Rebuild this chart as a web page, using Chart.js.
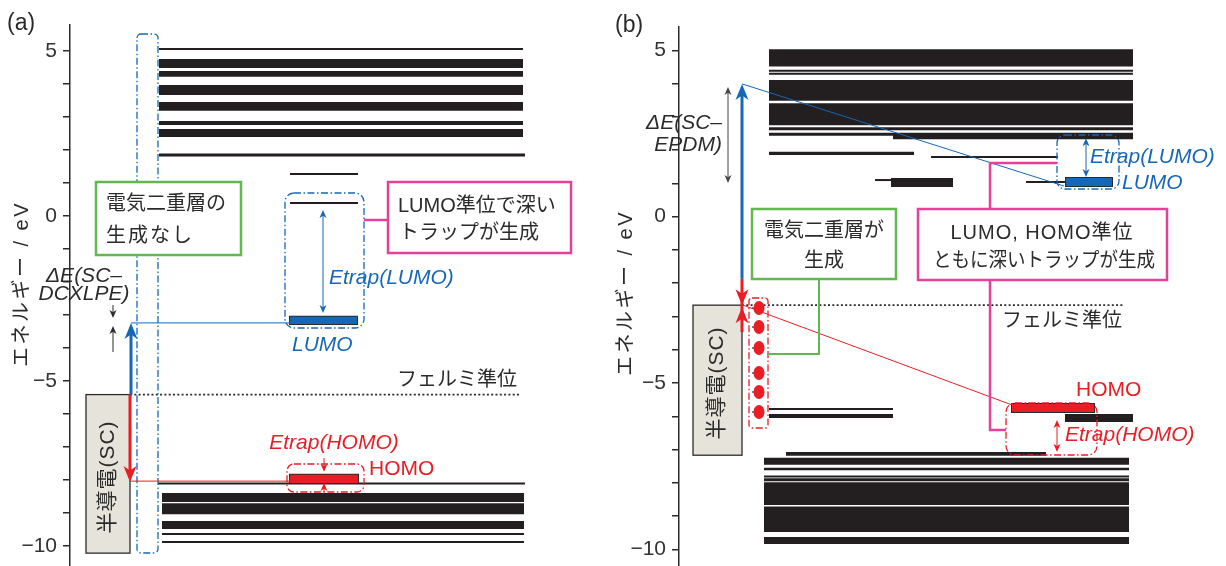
<!DOCTYPE html>
<html><head><meta charset="utf-8"><title>エネルギー準位図</title>
<script src="https://cdn.jsdelivr.net/npm/chart.js"></script>
<style>
    body { margin: 0; background: #fff; width: 1226px; height: 566px; overflow: hidden; position: relative; }
    canvas { position: absolute; top: 0; }
    #chartA { left: 0; }
    #chartB { left: 610px; }
</style>
</head>
<body>
<canvas id="chartA" width="610" height="566"></canvas>
<canvas id="chartB" width="616" height="566"></canvas>
<script>
// ---- data: energies in eV, horizontal extents in x-axis units ----
// panel (a) DCXLPE
const bandLoA   = [5.05, 4.48, 4.21, 3.66, 3.18, 2.75, 2.39, 1.80, 1.27, 0.39, -8.10, -8.66, -9.03, -9.48, -9.63, -9.87];
const bandHiA   = [5.05, 4.75, 4.39, 3.96, 3.45, 2.87, 2.63, 1.89, 1.27, 0.39, -8.10, -8.39, -8.70, -9.24, -9.63, -9.87];
const bandFromA = [159, 159, 159, 159, 159, 159, 159, 159, 290, 290, 158, 162, 162, 162, 162, 162];
const bandToA   = [523, 523, 523, 523, 523, 523, 523, 525, 358, 358, 525, 524, 524, 524, 524, 524];
const lumoA = [-3.27, -3.05], lumoSpanA = [290, 357];
const homoA = [-8.09, -7.84], homoSpanA = [290, 358];
const fermiA = -5.41, fermiSpanA = [130, 519];
const scBottomA = -10.21, lumoLinkA = -3.24, homoLinkA = -8.03;

// panel (b) EPDM
const bandLoB   = [4.51, 4.36, 4.27, 3.48, 2.75, 2.60, 2.43, 2.33, 1.85, 1.76, 1.10, 0.89, 1.04, -5.78, -6.05, -6.17, -7.19, -7.46, -7.62, -7.81, -7.95, -8.67, -9.48, -9.84];
const bandHiB   = [5.03, 4.41, 4.32, 4.11, 3.41, 2.69, 2.52, 2.46, 1.95, 1.82, 1.10, 1.16, 1.04, -5.78, -5.93, -5.93, -7.07, -7.25, -7.55, -7.81, -7.86, -7.98, -8.71, -9.63];
const bandFromB = [769, 769, 769, 769, 769, 769, 769, 893, 769, 931, 875, 891, 1026, 769, 769, 1065, 786, 764, 764, 764, 764, 764, 764, 764];
const bandToB   = [1133, 1133, 1133, 1133, 1133, 1133, 1133, 1133, 914, 1058, 892, 953, 1066, 893, 893, 1133, 1046, 1129, 1129, 1129, 1129, 1129, 1129, 1129];
const lumoB = [0.92, 1.16], lumoSpanB = [1066, 1112];
const homoB = [-5.87, -5.63], homoSpanB = [1012, 1094];
const fermiB = -2.66, fermiSpanB = [742, 1123];
const scBottomB = -7.17, arrowTopB = 3.99, arrowMidB = -1.87, arrowLowB = -3.47, homoLinkB = -5.66;

const INK = '#2b2b2b', BAND = '#231f20', BLUE = '#1667b7', RED = '#ea1d25';
const PINK = '#e6419a', GREEN = '#62b84f', SCFILL = '#e6e4da';
const FONT = '"Liberation Sans", "Noto Sans CJK JP", sans-serif';

Chart.defaults.font.family = FONT;

function thick(chart, lo, hi, extra) {
    const y = chart.scales && chart.scales.y;
    if (!y) return 2 + extra;
    const d = Math.abs(y.getPixelForValue(lo) - y.getPixelForValue(hi));
    return (isFinite(d) ? Math.max(2, d) : 2) + extra;
}

function levelSet(lo, hi, from, to, color, order, extra) {
    return lo.map((l, i) => ({
        data: [{x: from[i], y: (l + hi[i]) / 2}, {x: to[i], y: (l + hi[i]) / 2}],
        borderColor: color,
        borderWidth: ctx => thick(ctx.chart, l, hi[i], extra),
        borderCapStyle: 'butt',
        pointRadius: 0,
        order: order
    }));
}

function trap(range, span, color) {
    return [
        ...levelSet([range[0]], [range[1]], [span[0] - 1], [span[1] + 1], INK, 2, 2),
        ...levelSet([range[0]], [range[1]], [span[0]], [span[1]], color, 1, 0)
    ];
}

function fermi(e, span) {
    return {
        data: [{x: span[0], y: e}, {x: span[1], y: e}],
        borderColor: INK, borderWidth: 1.6, borderDash: [2, 2.3],
        pointRadius: 0, order: 2
    };
}

// ---- drawing helpers for the annotations ----
function dashRect(ctx, x, y, w, h, r, color) {
    ctx.save();
    ctx.strokeStyle = color; ctx.lineWidth = 1.3; ctx.setLineDash([7, 2.5, 1.5, 2.5]);
    ctx.beginPath(); ctx.roundRect(x, y, w, h, r); ctx.stroke();
    ctx.restore();
}
function textBox(ctx, x, y, w, h, color) {
    ctx.save();
    ctx.fillStyle = '#fff'; ctx.strokeStyle = color; ctx.lineWidth = 2.5;
    ctx.fillRect(x, y, w, h); ctx.strokeRect(x, y, w, h);
    ctx.restore();
}
function poly(ctx, pts, color, width) {
    ctx.save();
    ctx.strokeStyle = color; ctx.lineWidth = width;
    ctx.beginPath(); ctx.moveTo(pts[0][0], pts[0][1]);
    pts.slice(1).forEach(p => ctx.lineTo(p[0], p[1]));
    ctx.stroke(); ctx.restore();
}
function head(ctx, x, y, dir, hw, len, color) {
    ctx.save(); ctx.fillStyle = color;
    ctx.beginPath(); ctx.moveTo(x, y);
    ctx.lineTo(x - hw, y - dir * len); ctx.lineTo(x, y - dir * len * 0.72); ctx.lineTo(x + hw, y - dir * len);
    ctx.closePath(); ctx.fill(); ctx.restore();
}
function arrow(ctx, x, y0, y1, color, big) {
    const dir = y1 > y0 ? 1 : -1;
    poly(ctx, [[x, y0], [x, y1 - dir * (big ? 9 : 4)]], color, big ? 3 : 1);
    if (big) head(ctx, x, y1, dir, 6.5, 16, color); else head(ctx, x, y1, dir, 3.5, 8, color);
}
function dblArrow(ctx, x, y0, y1, color) {
    poly(ctx, [[x, y0 + 4], [x, y1 - 4]], color, 1);
    head(ctx, x, y0, -1, 3.5, 8, color);
    head(ctx, x, y1, 1, 3.5, 8, color);
}
function label(ctx, s, x, y, font, color, align, maxW, spacing) {
    ctx.save();
    ctx.font = font; ctx.fillStyle = color || INK;
    ctx.textAlign = align || 'left'; ctx.textBaseline = 'middle';
    if (spacing) ctx.letterSpacing = spacing;
    if (maxW) ctx.fillText(s, x, y, maxW); else ctx.fillText(s, x, y);
    ctx.restore();
}
function vlabel(ctx, s, x, y, font, color, spacing) {
    ctx.save();
    ctx.translate(x, y); ctx.rotate(-Math.PI / 2);
    label(ctx, s, 0, 0, font, color, 'center', 0, spacing);
    ctx.restore();
}
function scBox(ctx, x, y0, w, y1, cy) {
    ctx.save();
    ctx.fillStyle = SCFILL; ctx.strokeStyle = INK; ctx.lineWidth = 1.3;
    ctx.fillRect(x, y0, w, y1 - y0); ctx.strokeRect(x, y0, w, y1 - y0);
    ctx.restore();
    vlabel(ctx, '半導電(SC)', x + w / 2, cy, '21px ' + FONT, INK, '1px');
}

const F20 = '20px ' + FONT, F21 = '21px ' + FONT, I21 = 'italic 21px ' + FONT;

function drawA(chart) {
    const ctx = chart.ctx, Y = e => chart.scales.y.getPixelForValue(e);
    ctx.save();
    label(ctx, '(a)', 7, 24, '23px ' + FONT, INK);
    vlabel(ctx, 'エネルギー / eV', 22, 284, F20, INK, '2.5px');

    dashRect(ctx, 137, 34, 21, 519, 4, BLUE);
    scBox(ctx, 86, Y(fermiA), 44, Y(scBottomA), 477);
    arrow(ctx, 131, Y(fermiA), Y(lumoLinkA), BLUE, true);
    arrow(ctx, 130, Y(fermiA), Y(homoLinkA) + 1, RED, true);
    poly(ctx, [[131, Y(lumoLinkA)], [290, Y(lumoLinkA)]], BLUE, 1);
    poly(ctx, [[131, Y(homoLinkA)], [290, Y(homoLinkA)]], RED, 1);

    // ΔE(SC-DCXLPE)
    label(ctx, 'ΔE(SC–', 84, 276, I21, INK, 'center');
    label(ctx, 'DCXLPE)', 84, 294, I21, INK, 'center');
    arrow(ctx, 113, Y(-2.70), Y(-3.09), INK, false);
    arrow(ctx, 113, Y(-4.12), Y(-3.33), INK, false);

    // double layer: none
    textBox(ctx, 96, 182, 145, 73, GREEN);
    label(ctx, '電気二重層の', 106, 204, F20, INK);
    label(ctx, '生成なし', 106, 236, F20, INK, 'left', 0, '2px');

    // LUMO trap
    dashRect(ctx, 285, 193, 79, 135, 9, BLUE);
    dblArrow(ctx, 323, Y(0.18), Y(-2.94), BLUE);
    label(ctx, 'Etrap(LUMO)', 329, 278, I21, BLUE);
    label(ctx, 'LUMO', 292, 345, I21, BLUE);
    poly(ctx, [[364, 220], [388, 220]], PINK, 2.5);
    textBox(ctx, 388, 182, 183, 71, PINK);
    label(ctx, 'LUMO準位で深い', 398, 206, F20, INK);
    label(ctx, 'トラップが生成', 399, 233, F20, INK);

    // HOMO trap
    dashRect(ctx, 287, 464, 77, 28, 7, RED);
    label(ctx, 'Etrap(HOMO)', 334, 443, I21, RED, 'center');
    arrow(ctx, 324, Y(-7.33), Y(-7.75), RED, false);
    arrow(ctx, 324, Y(-8.36), Y(-8.09), RED, false);
    label(ctx, 'HOMO', 369, 469, F21, RED);

    label(ctx, 'フェルミ準位', 397, 380, F20, INK);
    ctx.restore();
}

function drawB(chart) {
    const ctx = chart.ctx, Y = e => chart.scales.y.getPixelForValue(e);
    ctx.save();
    ctx.translate(-610, 0);   // draw in page coordinates
    label(ctx, '(b)', 615, 26, '23px ' + FONT, INK);
    vlabel(ctx, 'エネルギー / eV', 626, 293, F20, INK, '2.5px');

    // ΔE(SC-EPDM)
    label(ctx, 'ΔE(SC–', 722, 123, I21, INK, 'right');
    label(ctx, 'EPDM)', 722, 145, I21, INK, 'right');
    dblArrow(ctx, 728, Y(3.90), Y(1.01), '#444');

    scBox(ctx, 693, Y(fermiB), 49, Y(scBottomB), 383);

    // charges in the double layer
    dashRect(ctx, 749, 298, 19, 130, 3, RED);
    [308, 327, 348, 373, 392, 412].forEach(cy => {
        poly(ctx, [[752, cy], [756, cy]], INK, 1.2);
        ctx.save(); ctx.fillStyle = RED;
        ctx.beginPath(); ctx.ellipse(759, cy, 5.5, 7, 0, 0, Math.PI * 2); ctx.fill();
        ctx.restore();
    });

    // main arrows
    arrow(ctx, 742, Y(arrowMidB), Y(arrowTopB), BLUE, true);
    poly(ctx, [[742, Y(arrowMidB)], [742, Y(arrowLowB)]], RED, 3);
    head(ctx, 742, Y(fermiB), 1, 6.5, 16, RED);
    head(ctx, 742, Y(fermiB) + 2, -1, 6.5, 16, RED);
    poly(ctx, [[742, Y(arrowTopB)], [1064, Y(lumoB[0])]], BLUE, 1);
    poly(ctx, [[743, Y(fermiB)], [1012, Y(homoLinkB)]], RED, 1);

    // double layer formed
    poly(ctx, [[819, 279], [819, 354], [768, 354]], GREEN, 2);
    textBox(ctx, 752, 209, 144, 70, GREEN);
    label(ctx, '電気二重層が', 824, 231, F20, INK, 'center');
    label(ctx, '生成', 824, 261, F20, INK, 'center');

    // LUMO trap
    dashRect(ctx, 1057, 135, 62, 54, 8, BLUE);
    dblArrow(ctx, 1086, Y(2.36), Y(1.19), BLUE);
    label(ctx, 'Etrap(LUMO)', 1090, 157, I21, BLUE);
    label(ctx, 'LUMO', 1122, 183, I21, BLUE);

    // HOMO trap
    dashRect(ctx, 1006, 403, 91, 52, 9, RED);
    dblArrow(ctx, 1057, Y(-6.11), Y(-7.07), RED);
    label(ctx, 'Etrap(HOMO)', 1065, 435, I21, RED);
    label(ctx, 'HOMO', 1076, 390, F21, RED);

    // deep traps note
    poly(ctx, [[1057, 163], [990, 163], [990, 209]], PINK, 2.5);
    poly(ctx, [[990, 280], [990, 430], [1006, 430]], PINK, 2.5);
    textBox(ctx, 918, 209, 249, 71, PINK);
    label(ctx, 'LUMO, HOMO準位', 1042, 233, F20, INK, 'center', 0, '1px');
    label(ctx, 'ともに深いトラップが生成', 1044, 261, F20, INK, 'center', 222);

    label(ctx, 'フェルミ準位', 1002, 321, F20, INK);
    ctx.restore();
}

function minusLabel(v) {
    if (v % 5 !== 0) return '';
    return v < 0 ? '−' + (-v) : String(v);
}

function makeChart(id, datasets, yMin, yMax, xMin, xMax, axisW, top, draw) {
    return new Chart(document.getElementById(id), {
        type: 'line',
        data: {datasets: datasets},
        options: {
            responsive: false, animation: false, events: [], devicePixelRatio: 1,
            layout: {padding: {top: top, bottom: 0, left: 0, right: 0}},
            plugins: {legend: {display: false}, tooltip: {enabled: false}},
            scales: {
                x: {type: 'linear', min: xMin, max: xMax, display: false,
                    afterFit: s => { s.paddingLeft = 0; s.paddingRight = 0; }},
                y: {
                    type: 'linear', min: yMin, max: yMax,
                    afterFit: s => { s.width = axisW; s.paddingTop = 0; s.paddingBottom = 0; },
                    border: {display: true, color: INK, width: 1.5},
                    grid: {drawOnChartArea: false, drawTicks: true, tickLength: 7, tickColor: INK, lineWidth: 1.5},
                    ticks: {stepSize: 1, includeBounds: false, autoSkip: false, padding: 6,
                            color: '#333', font: {size: 21, family: '"Liberation Sans", sans-serif'},
                            callback: minusLabel}
                }
            }
        },
        plugins: [{id: 'notes', afterDatasetsDraw: draw}]
    });
}

makeChart('chartA', [
    ...levelSet(bandLoA, bandHiA, bandFromA, bandToA, BAND, 3, 0),
    fermi(fermiA, fermiSpanA),
    ...trap(lumoA, lumoSpanA, BLUE),
    ...trap(homoA, homoSpanA, RED)
], -10.60, 5.78, 70, 610, 70, 25, drawA);

makeChart('chartB', [
    ...levelSet(bandLoB, bandHiB, bandFromB, bandToB, BAND, 3, 0),
    fermi(fermiB, fermiSpanB),
    ...trap(lumoB, lumoSpanB, BLUE),
    ...trap(homoB, homoSpanB, RED)
], -10.50, 5.70, 679, 1226, 69, 27, drawB);
</script>
</body></html>
